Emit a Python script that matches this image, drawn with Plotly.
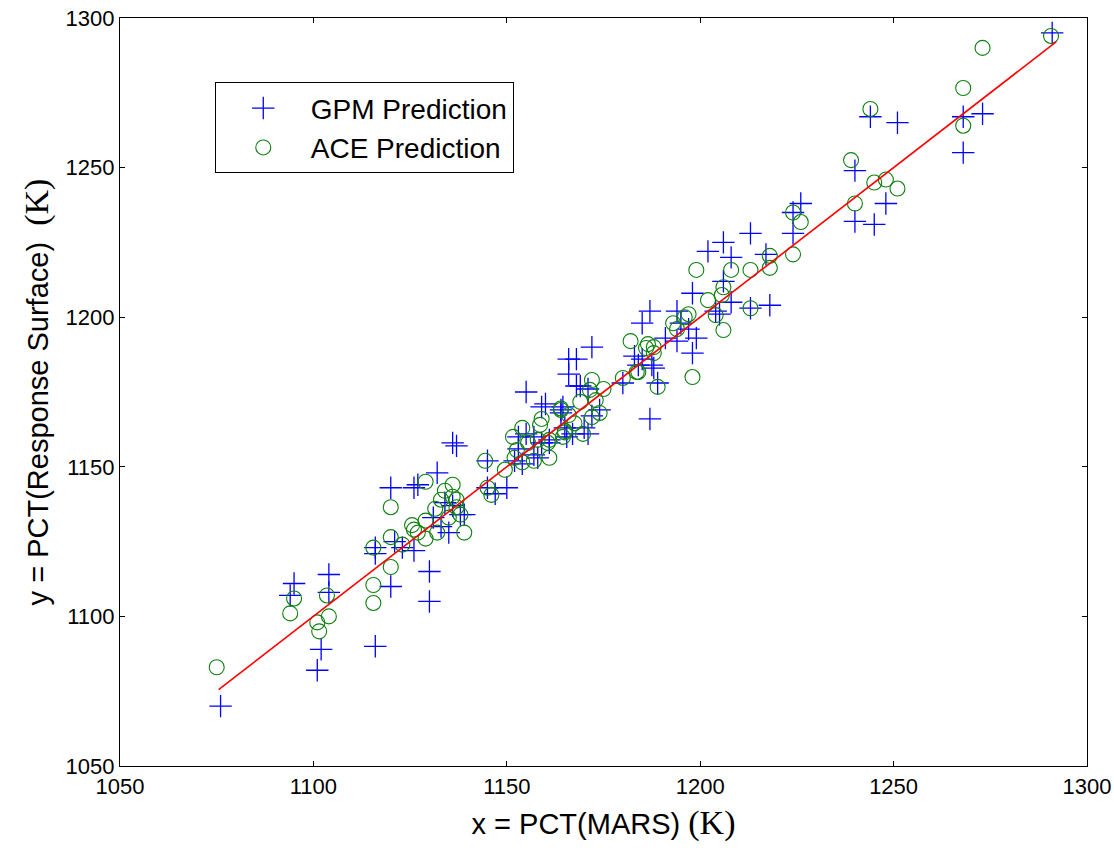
import plotly.graph_objects as go

# GPM Prediction points (x = PCT(MARS), y = PCT(Response Surface))
gpm_x = [1076, 1095, 1094, 1104, 1104, 1102, 1101, 1116, 1116, 1116, 1120, 1120, 1121, 1123,
         1126, 1127, 1126, 1130, 1130, 1132, 1136, 1137, 1131, 1133, 1135, 1136, 1138, 1134,
         1139, 1145, 1145, 1147, 1150, 1153, 1155, 1153, 1157, 1159, 1161, 1164, 1152, 1154,
         1155, 1160, 1166, 1168, 1166, 1172, 1168, 1171, 1164, 1165, 1167, 1171, 1174, 1172,
         1185, 1184, 1189, 1187, 1187, 1185, 1183, 1194, 1198, 1197, 1199, 1198, 1195, 1191,
         1188, 1206, 1208, 1208, 1202, 1206, 1213, 1217, 1213, 1218, 1205, 1204, 1194, 1224,
         1226, 1224, 1240, 1248, 1240, 1245, 1244, 1251, 1268, 1273, 1268, 1291, 1180, 1164.5,
         1169, 1170, 1165.5, 1161, 1187.5, 1159, 1157, 1158]
gpm_y = [1070, 1111, 1107, 1114, 1108, 1089, 1082, 1090, 1123, 1121, 1143, 1110, 1125, 1123,
         1143, 1144, 1122, 1115, 1105, 1148, 1158, 1157, 1133, 1130, 1128, 1137, 1134, 1138,
         1134, 1152, 1143, 1141, 1143, 1160, 1161, 1156, 1154, 1170, 1159, 1169, 1152, 1151,
         1175, 1171, 1186, 1186, 1181, 1190, 1177, 1176, 1168, 1163, 1161, 1161, 1169, 1167,
         1186, 1184, 1178, 1166, 1202, 1198, 1187, 1202, 1208, 1196, 1193, 1188, 1198, 1193,
         1183, 1212, 1205, 1220, 1222, 1225, 1228, 1221, 1203, 1204, 1201, 1202, 1192, 1235,
         1238, 1228, 1249, 1238, 1232, 1231, 1267, 1265, 1267, 1268, 1255, 1295, 1178, 1170,
         1177, 1163, 1160, 1158, 1184, 1158, 1160, 1153]

# ACE Prediction points
ace_x = [1075, 1095, 1094, 1103.5, 1104, 1101, 1101.5, 1115.5, 1115.5, 1115.5, 1120, 1120,
         1120, 1123, 1125.5, 1126, 1127, 1129, 1129, 1129, 1131.5, 1132, 1133, 1134, 1135,
         1136, 1136, 1137, 1138, 1139, 1137, 1144.4, 1145, 1146, 1149.5, 1154, 1158.6, 1159,
         1164, 1151.6, 1152.6, 1152, 1155.5, 1154, 1160.6, 1161, 1165, 1164.5, 1172, 1171.5,
         1175, 1180, 1184, 1189, 1198, 1169, 1173, 1174, 1172, 1164, 1166, 1167.5, 1165,
         1169.7, 1161, 1199, 1208, 1213, 1206, 1205.6, 1202, 1204, 1206, 1213, 1197, 1196,
         1193, 1194, 1182, 1186.5, 1186, 1188, 1183.6, 1239, 1245, 1248, 1251, 1240, 1224,
         1226, 1224, 1218, 1218, 1188, 1290.7, 1273, 1268, 1268, 1244, 1158, 1157]
ace_y = [1083, 1106, 1101, 1107, 1100, 1098, 1095, 1123, 1110.5, 1104.5, 1136.5, 1126.5,
         1116.5, 1124, 1130.5, 1129, 1128, 1126, 1132, 1145, 1136, 1128, 1139, 1142, 1133,
         1144, 1140, 1136.5, 1134, 1128, 1139, 1152, 1143, 1140.6, 1149, 1163, 1164, 1166,
         1169.5, 1160, 1155.6, 1153, 1158, 1151.5, 1158, 1153, 1161.5, 1160, 1179, 1175.7,
         1176, 1179.7, 1181.7, 1176.7, 1180, 1171.7, 1172.3, 1168, 1166.6, 1169, 1167.3, 1164.5,
         1162, 1161, 1159, 1215.8, 1215.8, 1215.8, 1210, 1207.4, 1205.7, 1200.7, 1195.7, 1203,
         1201, 1200, 1198, 1196, 1192, 1191, 1189.7, 1188, 1181.7, 1252.5, 1245, 1246, 1243,
         1238, 1235, 1231.8, 1221, 1220.5, 1216.5, 1190, 1294, 1290, 1276.6, 1264, 1269.6,
         1159, 1152]

x_ticks = [1050, 1100, 1150, 1200, 1250, 1300]
y_ticks = [1050, 1100, 1150, 1200, 1250, 1300]

all_x = gpm_x + ace_x
line_x = [min(all_x) + 0.5, max(all_x) + 1]
line_y = line_x

fig = go.Figure()
fig.add_trace(go.Scatter(
    x=gpm_x, y=gpm_y, mode="markers", name="GPM Prediction",
    marker=dict(symbol="cross-thin-open", size=16, color="#0000ff",
                line=dict(color="#0000ff", width=1.3)),
))
fig.add_trace(go.Scatter(
    x=ace_x, y=ace_y, mode="markers", name="ACE Prediction",
    marker=dict(symbol="circle-open", size=15, color="#108010",
                line=dict(color="#108010", width=1.1)),
))
fig.add_trace(go.Scatter(
    x=line_x, y=line_y, mode="lines", showlegend=False,
    line=dict(color="#ff0000", width=1.6),
))

tick_font = dict(family="Liberation Sans, Arial, sans-serif", size=22, color="black")
axis_common = dict(
    showline=True, linecolor="black", linewidth=1.3, mirror="allticks",
    ticks="inside", ticklen=5, tickcolor="black", tickwidth=1,
    showgrid=False, zeroline=False, tickfont=tick_font, automargin=False,
)

fig.update_layout(
    width=1114, height=852,
    margin=dict(l=120, r=27, t=18, b=86),
    paper_bgcolor="white", plot_bgcolor="white",
    font=dict(family="Liberation Sans, Arial, sans-serif", color="black"),
    xaxis=dict(range=[1050, 1300], tickvals=x_ticks, ticktext=[str(v) for v in x_ticks],
               title=dict(text='x = PCT(MARS) <span style="font-family:Liberation Serif, Times New Roman, serif;font-size:34px">(K)</span>',
                          font=dict(size=29), standoff=16),
               **axis_common),
    yaxis=dict(range=[1050, 1300], tickvals=y_ticks, ticktext=[str(v) for v in y_ticks],
               title=dict(text='y = PCT(Response Surface)  <span style="font-family:Liberation Serif, Times New Roman, serif;font-size:34px">(K)</span>',
                          font=dict(size=29), standoff=8),
               **axis_common),
    legend=dict(x=0.098, y=0.914, xanchor="left", yanchor="top",
                bgcolor="white", bordercolor="black", borderwidth=1,
                font=dict(size=28, color="black"), itemwidth=85,
                tracegroupgap=0),
    showlegend=True,
)

fig.write_html("out.html")
